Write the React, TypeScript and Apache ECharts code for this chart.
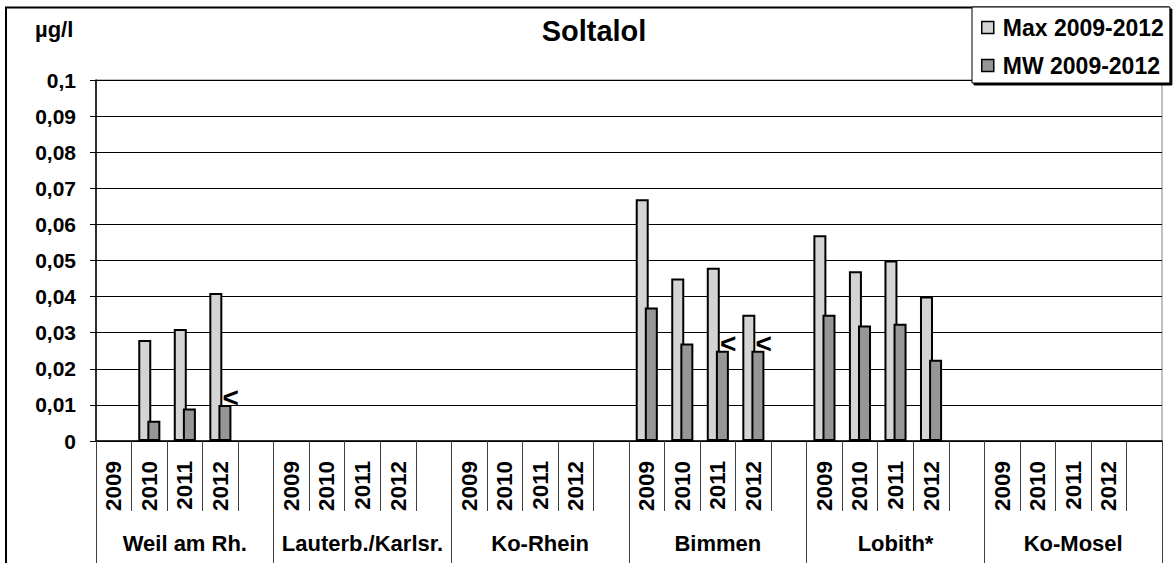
import React, { useEffect, useRef } from 'react';
import * as echarts from 'echarts';

const groups = ['Weil am Rh.', 'Lauterb./Karlsr.', 'Ko-Rhein', 'Bimmen', 'Lobith*', 'Ko-Mosel'];
const years = ['2009', '2010', '2011', '2012'];

// Max 2009-2012, per group 2009..2012 (null = no value)
const maxValues: (number | null)[] = [
  null, 0.028, 0.031, 0.041,
  null, null, null, null,
  null, null, null, null,
  0.067, 0.045, 0.048, 0.035,
  0.057, 0.047, 0.05, 0.04,
  null, null, null, null,
];

// MW 2009-2012
const mwValues: (number | null)[] = [
  null, 0.0056, 0.009, 0.01,
  null, null, null, null,
  null, null, null, null,
  0.037, 0.027, 0.025, 0.025,
  0.035, 0.032, 0.0325, 0.0225,
  null, null, null, null,
];

// MW values marked with "<"
const mwLessThan: boolean[] = [
  false, false, false, true,
  false, false, false, false,
  false, false, false, false,
  false, false, true, true,
  false, false, false, false,
  false, false, false, false,
];

const FONT = 'Arial, "Liberation Sans", sans-serif';

export default function App() {
  const ref = useRef<HTMLDivElement>(null);

  useEffect(() => {
    if (!ref.current) return;
    const chart = echarts.init(ref.current, null, { renderer: 'svg' });

    const categories: string[] = [];
    const maxData: any[] = [];
    const mwData: any[] = [];
    groups.forEach((g, gi) => {
      years.forEach((y, yi) => {
        const i = gi * years.length + yi;
        categories.push(g + '|' + y);
        maxData.push(maxValues[i]);
        const v = mwValues[i];
        if (v != null && mwLessThan[i]) {
          mwData.push({
            value: v,
            label: {
              show: true,
              formatter: '<',
              position: [4, -7],
              align: 'left',
              verticalAlign: 'middle',
              fontSize: 28,
              fontWeight: 'bold',
              color: '#000',
              fontFamily: FONT,
            },
          });
        } else {
          mwData.push(v);
        }
      });
      categories.push(g + '|');
      maxData.push(null);
      mwData.push(null);
    });

    chart.setOption({
      animation: false,
      textStyle: { fontFamily: FONT },
      title: {
        text: 'Soltalol',
        left: 594,
        textAlign: 'center',
        top: 16,
        padding: 0,
        textStyle: { fontSize: 29, fontWeight: 'bold', color: '#000', fontFamily: FONT },
      },
      legend: {
        data: ['Max 2009-2012', 'MW 2009-2012'],
        orient: 'vertical',
        left: 972,
        top: 7,
        itemWidth: 12,
        itemHeight: 12,
        itemGap: 15,
        padding: [9, 6, 6, 9],
        icon: 'rect',
        backgroundColor: '#fff',
        borderColor: '#000',
        borderWidth: 1,
        shadowColor: '#000',
        shadowBlur: 0,
        shadowOffsetX: 2,
        shadowOffsetY: 2,
        itemStyle: { borderWidth: 1.5 },
        textStyle: { fontSize: 23, fontWeight: 'bold', color: '#000', fontFamily: FONT, padding: [0, 0, 0, 4] },
      },
      grid: {
        left: 96,
        right: 12,
        top: 80,
        bottom: 122,
        show: true,
        borderColor: '#808080',
        borderWidth: 1,
        backgroundColor: 'transparent',
      },
      xAxis: [
        {
          type: 'category',
          data: categories,
          position: 'bottom',
          boundaryGap: true,
          axisLine: { show: true, lineStyle: { color: '#000', width: 1.5 } },
          axisTick: { show: true, interval: 0, length: 70, lineStyle: { color: '#404040' } },
          axisLabel: {
            interval: 0,
            rotate: 90,
            margin: 20,
            fontSize: 22.5,
            fontWeight: 'bold',
            color: '#000',
            fontFamily: FONT,
            formatter: (v: string) => v.split('|')[1],
          },
          splitLine: { show: false },
        },
        {
          type: 'category',
          data: groups,
          position: 'bottom',
          offset: 0,
          boundaryGap: true,
          axisLine: { show: false },
          axisTick: { show: true, interval: 0, length: 122, lineStyle: { color: '#404040' } },
          axisLabel: {
            interval: 0,
            margin: 91,
            fontSize: 22,
            fontWeight: 'bold',
            color: '#000',
            fontFamily: FONT,
          },
          splitLine: { show: false },
        },
      ],
      yAxis: {
        type: 'value',
        min: 0,
        max: 0.1,
        interval: 0.01,
        axisLine: { show: true, lineStyle: { color: '#000', width: 1.5 } },
        axisTick: { show: true, length: 6, lineStyle: { color: '#000' } },
        axisLabel: {
          margin: 20,
          fontSize: 21,
          fontWeight: 'bold',
          color: '#000',
          fontFamily: FONT,
          formatter: (v: number) => String(Math.round(v * 100) / 100).replace('.', ','),
        },
        splitLine: { show: true, lineStyle: { color: '#000', width: 1 } },
      },
      graphic: [
        {
          type: 'polyline',
          shape: { points: [[6, 563], [6, 7.5], [1169, 7.5]] },
          style: { stroke: '#000', lineWidth: 2, fill: 'none' },
          z: -1,
        },
        {
          type: 'text',
          left: 35,
          top: 18,
          style: { text: 'µg/l', fontSize: 22, fontWeight: 'bold', fill: '#000', fontFamily: FONT },
        },
      ],
      series: [
        {
          name: 'Max 2009-2012',
          type: 'bar',
          xAxisIndex: 0,
          data: maxData,
          barWidth: 13,
          barGap: '-30%',
          itemStyle: { color: '#d4d4d6', borderColor: '#000', borderWidth: 2 },
        },
        {
          name: 'MW 2009-2012',
          type: 'bar',
          xAxisIndex: 0,
          data: mwData,
          barWidth: 13,
          barGap: '-30%',
          itemStyle: { color: '#969696', borderColor: '#000', borderWidth: 2 },
        },
      ],
    });

    return () => chart.dispose();
  }, []);

  return <div ref={ref} style={{ position: 'absolute', left: 0, top: 0, width: 1174, height: 563 }} />;
}
